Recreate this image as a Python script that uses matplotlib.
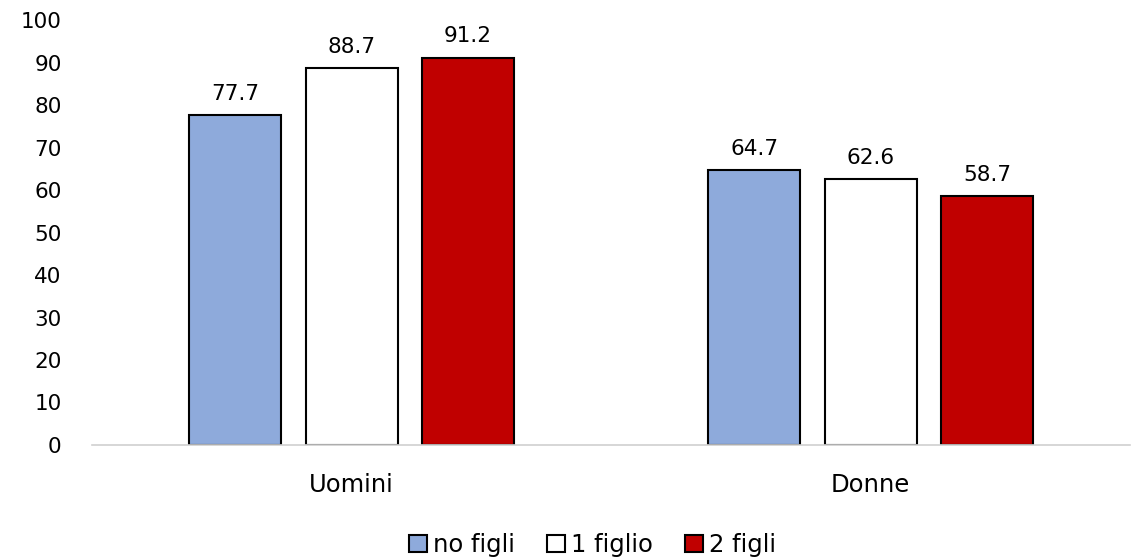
import numpy as np
import matplotlib
matplotlib.use("Agg")
import matplotlib.pyplot as plt

categories = ["Uomini", "Donne"]
series_labels = ["no figli", "1 figlio", "2 figli"]
no_figli = [77.7, 64.7]
un_figlio = [88.7, 62.6]
due_figli = [91.2, 58.7]
yticks = list(range(0, 101, 10))

colors = ["#8eaadb", "#ffffff", "#c00000"]

fig = plt.figure(figsize=(11.37, 5.59), dpi=100)
ax = fig.add_axes([0.081, 0.204, 0.913, 0.76])

x = np.arange(len(categories))
width = 0.177
step = 0.224
for i, (vals, lab, col) in enumerate(zip([no_figli, un_figlio, due_figli], series_labels, colors)):
    pos = x + (i - 1) * step
    bars = ax.bar(pos, vals, width, color=col, edgecolor="black", linewidth=1.5, label=lab)
    for b, v in zip(bars, vals):
        ax.text(b.get_x() + b.get_width() / 2, v + 2.6, f"{v:.1f}",
                ha="center", va="bottom", fontsize=15.5)

ax.set_xlim(-0.5, 1.5)
ax.set_ylim(0, 100)
ax.set_yticks(yticks)
ax.set_xticks(x)
ax.set_xticklabels(categories)
ax.tick_params(axis="y", length=0, labelsize=15.5, pad=22)
ax.tick_params(axis="x", length=0, labelsize=17.5, pad=20)
for s in ["top", "right", "left"]:
    ax.spines[s].set_visible(False)
ax.spines["bottom"].set_color("#d0d0d0")
ax.spines["bottom"].set_linewidth(1.2)

ax.legend(loc="lower center", bbox_to_anchor=(0.482, -0.315), ncol=3, frameon=False,
          fontsize=17.5, handlelength=0.75, handleheight=0.75, handletextpad=0.25,
          columnspacing=1.3)

fig.savefig("out.png", dpi=100)
